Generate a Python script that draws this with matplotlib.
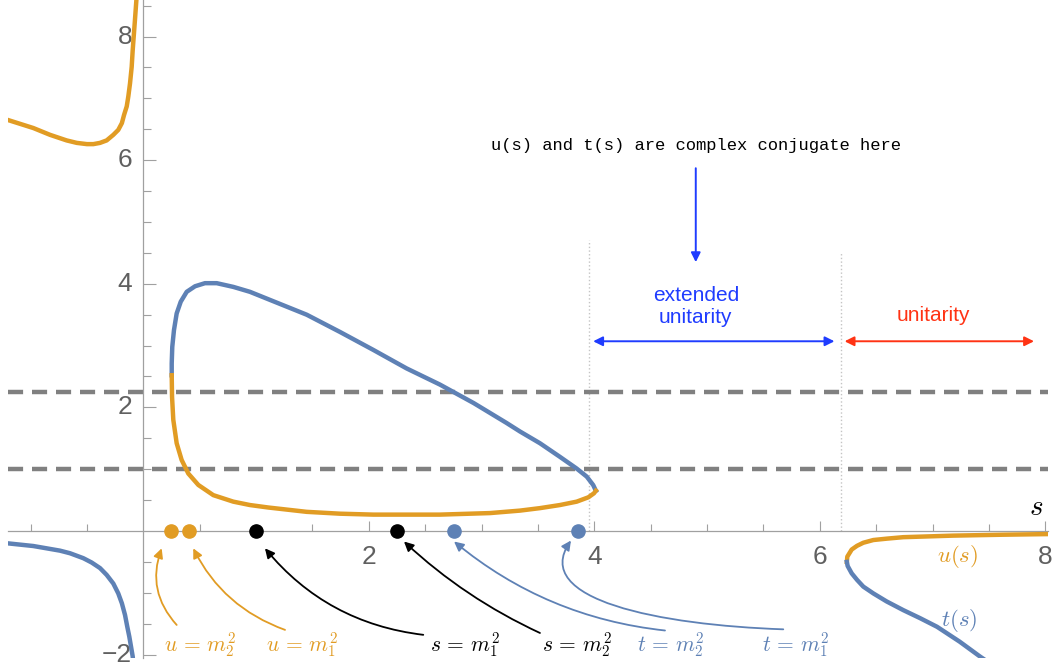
import numpy as np
import matplotlib.pyplot as plt
from matplotlib.patches import FancyArrowPatch
from matplotlib.path import Path

plt.rcParams['font.family'] = 'Liberation Sans'
plt.rcParams['mathtext.fontset'] = 'cm'

ORANGE = '#e19c24'
BLUE = '#5e81b5'
GRAY = '#808080'
BRIGHT_BLUE = '#1f3cff'
RED = '#ff3314'

# masses (squared)
m1_sq = 1.0
m2_sq = 2.25

# u(s) branch for s < 0
s_u_left = [-1.2, -0.975, -0.827, -0.68, -0.59, -0.50, -0.443, -0.384, -0.325, -0.266,
            -0.222, -0.19, -0.171, -0.147, -0.133, -0.118, -0.103, -0.094, -0.074, -0.059]
u_left = [6.65, 6.52, 6.41, 6.32, 6.28, 6.26, 6.26, 6.28, 6.32, 6.41,
          6.49, 6.60, 6.73, 6.87, 7.03, 7.24, 7.51, 7.78, 8.27, 8.65]

# t(s) branch for s < 0
s_t_left = [-1.2, -0.976, -0.739, -0.65, -0.532, -0.458, -0.384, -0.325, -0.266,
            -0.222, -0.19, -0.162, -0.142, -0.124, -0.109, -0.094, -0.085]
t_left = [-0.20, -0.243, -0.318, -0.36, -0.44, -0.51, -0.60, -0.71, -0.85,
          -1.01, -1.17, -1.36, -1.55, -1.71, -1.87, -2.03, -2.2]

# closed loop, t(s) upper part
s_t_loop = [0.252, 0.252, 0.257, 0.272, 0.296, 0.332, 0.385, 0.459, 0.547, 0.651, 0.798,
            0.946, 1.109, 1.449, 1.745, 2.04, 2.336, 2.63, 2.93, 3.22, 3.341, 3.518,
            3.695, 3.844, 3.933, 3.99, 4.014]
t_loop = [2.52, 2.71, 2.98, 3.25, 3.52, 3.71, 3.87, 3.96, 4.01, 4.01, 3.95,
          3.87, 3.75, 3.50, 3.22, 2.93, 2.63, 2.37, 2.07, 1.75, 1.61, 1.42,
          1.20, 1.01, 0.88, 0.744, 0.652]

# closed loop, u(s) lower part
s_u_loop = [0.252, 0.255, 0.266, 0.296, 0.34, 0.399, 0.488, 0.621, 0.798, 0.946, 1.109,
            1.449, 1.745, 2.04, 2.63, 3.075, 3.341, 3.518, 3.695, 3.844, 3.947, 3.997, 4.014]
u_loop = [2.52, 2.17, 1.80, 1.42, 1.15, 0.93, 0.745, 0.58, 0.475, 0.42, 0.38,
          0.31, 0.28, 0.265, 0.265, 0.29, 0.33, 0.37, 0.42, 0.475, 0.545, 0.61, 0.652]

# branches above threshold
s_u_right = [6.24, 6.244, 6.283, 6.33, 6.386, 6.475, 6.593, 6.74, 7.18, 7.63, 8.03]
u_right = [-0.50, -0.415, -0.30, -0.24, -0.19, -0.146, -0.124, -0.10, -0.075, -0.06, -0.05]
s_t_right = [6.24, 6.247, 6.283, 6.33, 6.386, 6.475, 6.593, 6.74, 6.889, 7.04, 7.24, 7.42, 7.5]
t_right = [-0.50, -0.566, -0.685, -0.79, -0.90, -1.01, -1.14, -1.28, -1.41, -1.55, -1.79, -2.03, -2.13]

# marked points on the s axis
u_dots = [0.246, 0.406]
s_dots = [m1_sq, m2_sq]
t_dots = [2.76, 3.855]

# region boundaries
thresholds = [3.95, 6.19]

fig = plt.figure(figsize=(10.53, 6.66), dpi=100)
ax = fig.add_axes([8 / 1053, 8 / 666, 1040 / 1053, 658 / 666])
ax.set_xlim(-1.2, 8.024)
ax.set_ylim(-2.055, 8.592)

# axes through the origin, Mathematica style
for side in ['top', 'right']:
    ax.spines[side].set_visible(False)
ax.spines['left'].set_position(('data', 0))
ax.spines['bottom'].set_position(('data', 0))
for side in ['left', 'bottom']:
    ax.spines[side].set_color('#a0a0a0')
    ax.spines[side].set_linewidth(0.9)

ax.set_xticks([2, 4, 6, 8])
ax.set_xticks([v for v in np.arange(-1, 8.01, 0.5) if v % 2 != 0], minor=True)
ax.set_yticks([-2, 2, 4, 6, 8])
ax.set_yticks([v for v in np.arange(-2, 8.51, 0.5) if v % 2 != 0], minor=True)
ax.tick_params(which='both', direction='in', color='#a0a0a0', width=0.8,
               labelcolor='#606060', labelsize=19)
ax.tick_params(axis='x', which='major', length=7, pad=10)
ax.tick_params(axis='x', which='minor', length=5)
ax.tick_params(axis='y', which='major', length=9, pad=8)
ax.tick_params(axis='y', which='minor', length=6)
for lab in ax.get_yticklabels():
    lab.set_va('center')

# mass lines and thresholds
for m in [m2_sq, m1_sq]:
    ax.axhline(m, color=GRAY, lw=3.2, dashes=(3.4, 2.0), zorder=2)
ax.plot([thresholds[0]] * 2, [0, 4.71], color='#c4c4c4', lw=1, ls=':', zorder=1)
ax.plot([thresholds[1]] * 2, [0, 4.51], color='#c4c4c4', lw=1, ls=':', zorder=1)

# curves
ax.plot(s_u_left, u_left, color=ORANGE, lw=3.2, zorder=3)
ax.plot(s_t_left, t_left, color=BLUE, lw=3.2, zorder=3)
ax.plot(s_t_loop, t_loop, color=BLUE, lw=3.2, zorder=3)
ax.plot(s_u_loop, u_loop, color=ORANGE, lw=3.2, zorder=3)
ax.plot(s_u_right, u_right, color=ORANGE, lw=3.2, zorder=3)
ax.plot(s_t_right, t_right, color=BLUE, lw=3.2, zorder=3)

# dots
ax.plot(u_dots, [0, 0], 'o', color=ORANGE, ms=9.5, zorder=5, clip_on=False)
ax.plot(s_dots, [0, 0], 'o', color='black', ms=9.5, zorder=5, clip_on=False)
ax.plot(t_dots, [0, 0], 'o', color=BLUE, ms=9.5, zorder=5, clip_on=False)

# labels under the axis with arrows
labels = [
    (r'$u\,=\,m_2^2$', ORANGE, (0.503, -1.845), (0.296, -1.52), (0.163, -0.28), -0.3),
    (r'$u\,=\,m_1^2$', ORANGE, (1.408, -1.845), (1.257, -1.60), (0.443, -0.28), -0.2),
    (r'$s\,=\,m_1^2$', 'black', (2.853, -1.845), (2.483, -1.68), (1.079, -0.28), -0.2),
    (r'$s\,=\,m_2^2$', 'black', (3.846, -1.845), (3.518, -1.65), (2.312, -0.17), -0.08),
    (r'$t\,=\,m_2^2$', BLUE, (4.68, -1.845), (4.627, -1.61), (2.756, -0.17), -0.15),
]
for txt, col, pos, tail, tip, rad in labels:
    ax.text(pos[0], pos[1], txt, color=col, fontsize=15.5, ha='center', va='center')
    ax.annotate('', xy=tip, xytext=tail,
                arrowprops=dict(arrowstyle='-|>', color=col, lw=1.3, mutation_scale=14,
                                shrinkA=0, shrinkB=0,
                                connectionstyle='arc3,rad=%s' % rad))

ax.text(5.789, -1.845, r'$t\,=\,m_1^2$', color=BLUE, fontsize=15.5, ha='center', va='center')
curve = Path([(5.676, -1.591), (4.583, -1.521), (3.430, -1.117), (3.793, -0.154)],
             [Path.MOVETO, Path.CURVE4, Path.CURVE4, Path.CURVE4])
ax.add_patch(FancyArrowPatch(path=curve, arrowstyle='-|>', color=BLUE, lw=1.3,
                             mutation_scale=14))

# curve names and axis label
ax.text(7.226, -0.405, r'$u(s)$', color=ORANGE, fontsize=16.5, ha='center', va='center')
ax.text(7.24, -1.456, r'$t(s)$', color=BLUE, fontsize=16.5, ha='center', va='center')
ax.text(7.92, 0.39, r'$s$', color='black', fontsize=21, ha='center', va='center')

# region annotations
ax.text(4.9, 6.23, 'u(s) and t(s) are complex conjugate here', family='Liberation Mono',
        fontsize=12.3, ha='center', va='center')
ax.annotate('', xy=(4.9, 4.35), xytext=(4.9, 5.87),
            arrowprops=dict(arrowstyle='-|>', color=BRIGHT_BLUE, lw=1.4, mutation_scale=14,
                            shrinkA=0, shrinkB=0))
ax.text(4.9, 3.64, 'extended\nunitarity', color=BRIGHT_BLUE, fontsize=15,
        ha='center', va='center', linespacing=1.2)
ax.annotate('', xy=(6.13, 3.07), xytext=(3.99, 3.07),
            arrowprops=dict(arrowstyle='<|-|>', color=BRIGHT_BLUE, lw=1.4, mutation_scale=14,
                            shrinkA=0, shrinkB=0))
ax.text(7.01, 3.48, 'unitarity', color=RED, fontsize=15, ha='center', va='center')
ax.annotate('', xy=(7.90, 3.07), xytext=(6.22, 3.07),
            arrowprops=dict(arrowstyle='<|-|>', color=RED, lw=1.4, mutation_scale=14,
                            shrinkA=0, shrinkB=0))

fig.savefig('out.png', dpi=100)
